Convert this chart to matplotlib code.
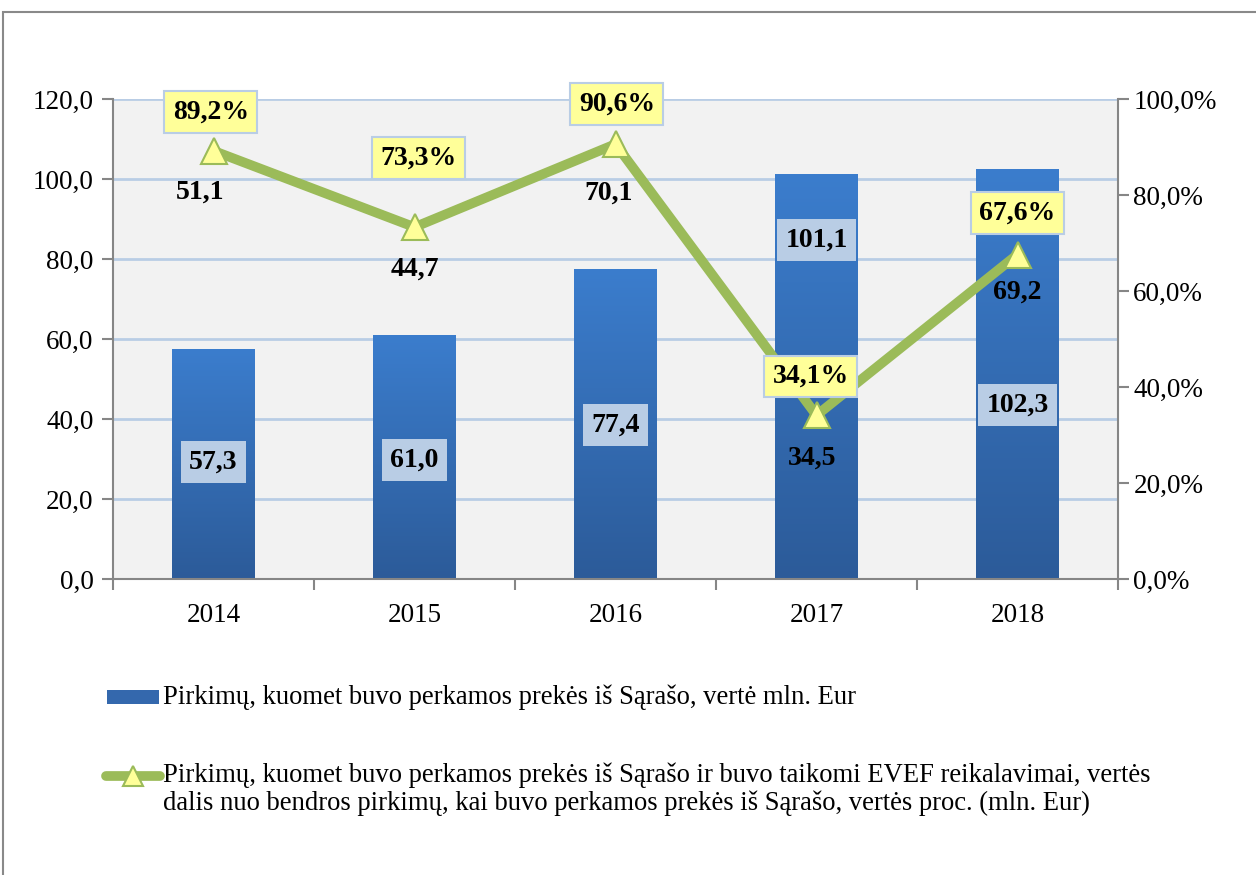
import numpy as np
import matplotlib.pyplot as plt
from matplotlib.patches import Rectangle
from matplotlib.lines import Line2D
from matplotlib.colors import LinearSegmentedColormap

plt.rcParams['font.family'] = ['Liberation Serif', 'DejaVu Serif']

# Data
years = ['2014', '2015', '2016', '2017', '2018']
total_value = [57.3, 61.0, 77.4, 101.1, 102.3]        # mln. Eur
evef_share = [89.2, 73.3, 90.6, 34.1, 67.6]           # %
evef_value = [51.1, 44.7, 70.1, 34.5, 69.2]           # mln. Eur

# label placement (manual, as in the original)
bar_label_y = [29.2, 29.8, 38.5, 84.75, 43.5]
pct_offset = [(-2, 28), (3, 50), (1, 29), (-4, 28), (0, 30)]
val_offset = [(-10, -30), (0, -30), (-5, -35), (-3, -31), (0, -27)]

W, H = 1256, 875
fig = plt.figure(figsize=(W / 100, H / 100), dpi=100)
ax = fig.add_axes([113 / W, 1 - 579 / H, (1118 - 113) / W, (579 - 99) / H])
ax2 = ax.twinx()

x = np.arange(len(years))
bw = 0.41

# gradient bars
cmap = LinearSegmentedColormap.from_list('bar', ['#2c5b99', '#3b7dcd'])
grad = np.linspace(0, 1, 256).reshape(-1, 1)
for xi, v in zip(x, total_value):
    ax.imshow(grad, cmap=cmap, origin='lower', aspect='auto',
              extent=(xi - bw / 2, xi + bw / 2, 0, v), zorder=2)
    ax.text(xi, bar_label_y[xi], f'{v:.1f}'.replace('.', ','), ha='center', va='center',
            fontsize=20, fontweight='bold', zorder=4,
            bbox=dict(boxstyle='square,pad=0.3', fc='#b9cde5', ec='none'))

ax.set_xlim(-0.5, 4.5)
ax.set_ylim(0, 120)
ax.set_yticks(np.arange(0, 121, 20))
ax.set_yticklabels([f'{t:.1f}'.replace('.', ',') for t in np.arange(0, 121, 20)])
ax.set_xticks(x)
ax.set_xticklabels(years)
ax.set_xticks(np.arange(-0.5, 5, 1), minor=True)
ax.tick_params(axis='x', which='major', length=0, pad=17, labelsize=19.5)
ax.tick_params(axis='x', which='minor', length=8, width=1.5, color='#868686')
ax.tick_params(axis='y', length=8, width=1.5, color='#868686', labelsize=19.5, pad=6)
ax.set_facecolor('#f2f2f2')
ax.grid(axis='y', color='#b9cde5', linewidth=2, zorder=0)
ax.set_axisbelow(True)
for s in ['top', 'right']:
    ax.spines[s].set_visible(False)
for s in ['left', 'bottom']:
    ax.spines[s].set_color('#868686')
    ax.spines[s].set_linewidth(1.5)

# share line
ax2.plot(x, evef_share, color='#9bbb59', linewidth=7, marker='^', markersize=19,
         markerfacecolor='#ffff99', markeredgecolor='#9bbb59', markeredgewidth=1.5,
         solid_capstyle='round', zorder=3)
ax2.set_ylim(0, 100)
ax2.set_yticks(np.arange(0, 101, 20))
ax2.set_yticklabels([f'{t:.1f}%'.replace('.', ',') for t in np.arange(0, 101, 20)])
ax2.tick_params(axis='y', length=8, width=1.5, color='#868686', labelsize=19.5, pad=3)
for s in ['top', 'left', 'bottom']:
    ax2.spines[s].set_visible(False)
ax2.spines['right'].set_color('#868686')
ax2.spines['right'].set_linewidth(1.5)

for i, (p, v) in enumerate(zip(evef_share, evef_value)):
    ax2.annotate(f'{p:.1f}%'.replace('.', ','), (x[i], p), xytext=pct_offset[i],
                 textcoords='offset points', ha='center', va='center',
                 fontsize=20, fontweight='bold', zorder=5,
                 bbox=dict(boxstyle='square,pad=0.3', fc='#ffff99', ec='#b9cde5', lw=1.5))
    ax2.annotate(f'{v:.1f}'.replace('.', ','), (x[i], p), xytext=val_offset[i],
                 textcoords='offset points', ha='center', va='center',
                 fontsize=20, fontweight='bold', zorder=5)

# legend (drawn by hand)
fig.add_artist(Rectangle((107 / W, 1 - 704 / H), 52 / W, 14 / H, transform=fig.transFigure,
                         fc='#3468ad', ec='none'))
fig.text(163 / W, 1 - 697 / H, 'Pirkimų, kuomet buvo perkamos prekės iš Sąrašo, vertė mln. Eur',
         fontsize=19.2, va='center', ha='left')
fig.add_artist(Line2D([106 / W, 160 / W], [1 - 776 / H, 1 - 776 / H], transform=fig.transFigure,
                      color='#9bbb59', linewidth=7, solid_capstyle='round'))
fig.add_artist(Line2D([133 / W], [1 - 776 / H], transform=fig.transFigure, marker='^',
                      markersize=14, markerfacecolor='#ffff99', markeredgecolor='#9bbb59',
                      markeredgewidth=1.5, linestyle='none'))
fig.text(163 / W, 1 - 762 / H,
         'Pirkimų, kuomet buvo perkamos prekės iš Sąrašo ir buvo taikomi EVEF reikalavimai, vertės\n'
         'dalis nuo bendros pirkimų, kai buvo perkamos prekės iš Sąrašo, vertės proc. (mln. Eur)',
         fontsize=19.2, va='top', ha='left', linespacing=1.15)

# outer frame
fig.add_artist(Rectangle((3 / W, -0.05), 1.1, 1 - 12 / H + 0.05, transform=fig.transFigure,
                         fc='none', ec='#898989', lw=1.5))

fig.savefig('out.png', dpi=100)
